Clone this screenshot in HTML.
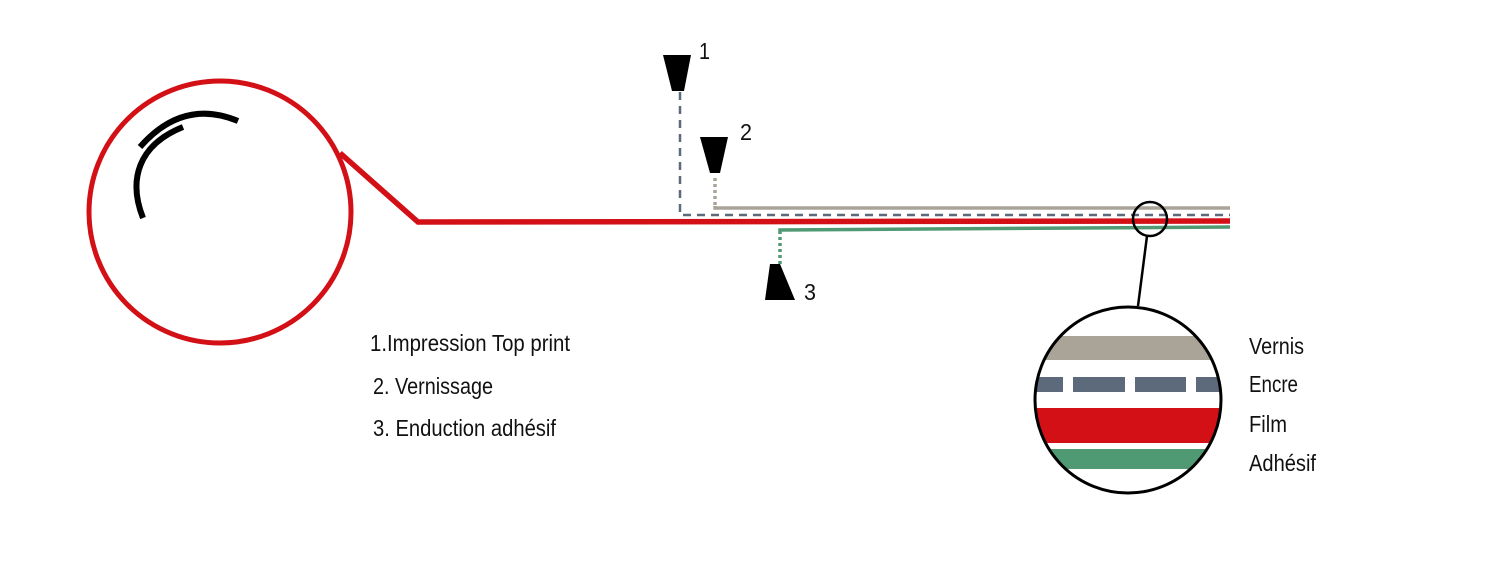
<!DOCTYPE html>
<html><head><meta charset="utf-8"><style>html,body{margin:0;padding:0;background:#fff}svg{display:block}text{font-family:"Liberation Sans",sans-serif;font-size:23px;fill:#111}</style></head>
<body>
<svg width="1511" height="573" viewBox="0 0 1511 573" xmlns="http://www.w3.org/2000/svg">
<defs><clipPath id="cc"><circle cx="1128" cy="400" r="93"/></clipPath></defs>
<circle cx="220" cy="212" r="131" fill="none" stroke="#d21016" stroke-width="5"/>
<path d="M140,147 Q183,98 238,121" fill="none" stroke="#000" stroke-width="6"/>
<path d="M143,218 C128,180 138,145 183,127" fill="none" stroke="#000" stroke-width="6"/>
<polyline points="340,153 418,222 1230,221" fill="none" stroke="#d21016" stroke-width="5.5"/>
<polyline points="715,175 715,208 1230,208" fill="none" stroke="#aaa398" stroke-width="3.5"/>
<line x1="715" y1="175" x2="715" y2="206" stroke="#fff" stroke-width="5" stroke-dasharray="3,3"/>
<polyline points="680,92 680,215 1230,215" fill="none" stroke="#5d6a7c" stroke-width="2.5" stroke-dasharray="8,6"/>
<polyline points="780,265 780,230 1230,227" fill="none" stroke="#4f9a72" stroke-width="3.5"/>
<line x1="780" y1="234" x2="780" y2="265" stroke="#fff" stroke-width="5" stroke-dasharray="3,3"/>
<polygon points="663,55 691,55 684,91 672,91" fill="#000"/>
<polygon points="700,137 728,137 720,173 710,173" fill="#000"/>
<polygon points="770,264 780,264 795,300 765,300" fill="#000"/>
<text x="699" y="59" font-size="22" textLength="11" lengthAdjust="spacingAndGlyphs">1</text>
<text x="740" y="140" font-size="22" textLength="12" lengthAdjust="spacingAndGlyphs">2</text>
<text x="804" y="300" font-size="22" textLength="12" lengthAdjust="spacingAndGlyphs">3</text>
<circle cx="1150" cy="219" r="17" fill="none" stroke="#000" stroke-width="2.5"/>
<line x1="1147" y1="236" x2="1138" y2="306" stroke="#000" stroke-width="2.5"/>
<g clip-path="url(#cc)">
<rect x="1030" y="336" width="200" height="24" fill="#aaa398"/>
<rect x="1030" y="377" width="200" height="15" fill="#5d6a7c"/>
<rect x="1063" y="376" width="10" height="17" fill="#fff"/>
<rect x="1125" y="376" width="10" height="17" fill="#fff"/>
<rect x="1186" y="376" width="10" height="17" fill="#fff"/>
<rect x="1030" y="408" width="200" height="35" fill="#d21016"/>
<rect x="1030" y="449" width="200" height="20" fill="#4f9a72"/>
</g>
<circle cx="1128" cy="400" r="93" fill="none" stroke="#000" stroke-width="3"/>
<text x="370" y="351" textLength="200" lengthAdjust="spacingAndGlyphs">1.Impression Top print</text>
<text x="373" y="394" textLength="120" lengthAdjust="spacingAndGlyphs">2. Vernissage</text>
<text x="373" y="436" textLength="183" lengthAdjust="spacingAndGlyphs">3. Enduction adhésif</text>
<text x="1249" y="354" textLength="55" lengthAdjust="spacingAndGlyphs">Vernis</text>
<text x="1249" y="392" textLength="49" lengthAdjust="spacingAndGlyphs">Encre</text>
<text x="1249" y="432" textLength="38" lengthAdjust="spacingAndGlyphs">Film</text>
<text x="1249" y="471" textLength="67" lengthAdjust="spacingAndGlyphs">Adhésif</text>
</svg>
</body></html>
